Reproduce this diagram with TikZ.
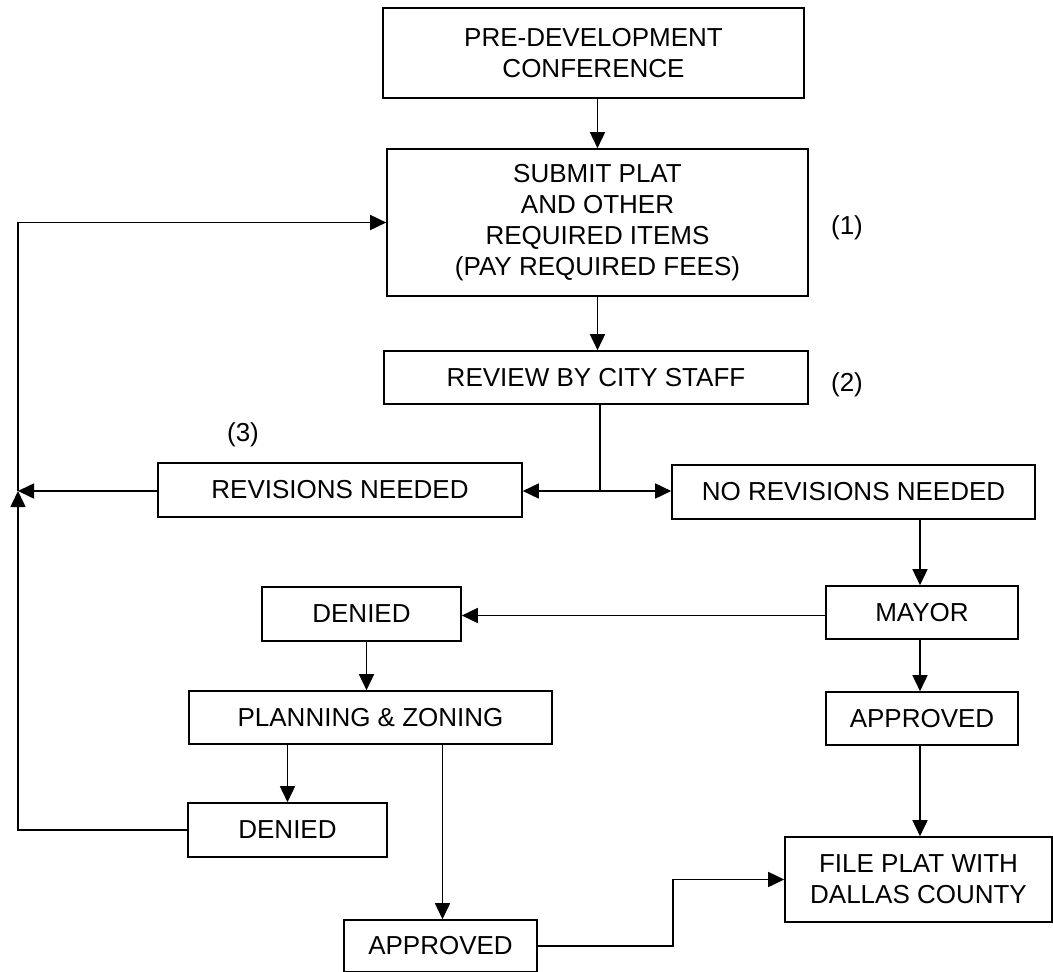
\documentclass[tikz,border=0pt]{standalone}
\usepackage{fontspec}
\setmainfont{Liberation Sans}
\usetikzlibrary{arrows.meta,calc}
\begin{document}
\begin{tikzpicture}[x=1pt,y=-1pt,
  every node/.style={font=\fontsize{26}{31}\selectfont},
  box/.style={draw,line width=1.6pt,inner sep=0pt,align=center},
  lbl/.style={inner sep=0pt},
  conn/.style={line width=1.6pt},
  arr/.style={conn,-{Triangle[length=16pt,width=15pt]}}]
\useasboundingbox (0,0) rectangle (1053,972);
\node[box,minimum width=421,minimum height=90] (pre) at (593.5,53) {PRE-DEVELOPMENT\\CONFERENCE};
\node[box,minimum width=421,minimum height=147] (submit) at (597.5,222.5) {SUBMIT PLAT\\AND OTHER\\REQUIRED ITEMS\\(PAY REQUIRED FEES)};
\node[box,minimum width=424,minimum height=53] (review) at (596,377.5) {REVIEW BY CITY STAFF};
\node[box,minimum width=364,minimum height=54] (revis) at (340,490) {REVISIONS NEEDED};
\node[box,minimum width=363,minimum height=54] (norev) at (853.5,492) {NO REVISIONS NEEDED};
\node[box,minimum width=192,minimum height=53] (mayor) at (922,612.5) {MAYOR};
\node[box,minimum width=199,minimum height=54] (deniedA) at (361.5,614) {DENIED};
\node[box,minimum width=363,minimum height=53] (plan) at (370.5,717.5) {PLANNING \& ZONING};
\node[box,minimum width=192,minimum height=53] (apprA) at (922,718.5) {APPROVED};
\node[box,minimum width=199,minimum height=54] (deniedB) at (287.5,830) {DENIED};
\node[box,minimum width=267,minimum height=85] (file) at (918.5,879.5) {FILE PLAT WITH\\DALLAS COUNTY};
\node[box,minimum width=193,minimum height=52] (apprB) at (440.5,946) {APPROVED};
\node[lbl] (l1) at (847,228) {(1)};
\node[lbl] (l2) at (847,385) {(2)};
\node[lbl] (l3) at (243,435) {(3)};
\coordinate (split) at (600,491);
\coordinate (J) at (18,491);
\coordinate (bendx) at (673,0);
\draw[arr] (submit.north |- pre.south) -- (submit.north);
\draw[arr] (submit.south) -- (submit.south |- review.north);
\draw[conn] (review.south -| split) -- (split);
\draw[arr] (split) -- (split -| revis.east);
\draw[arr] (split) -- (split -| norev.west);
\draw[arr] (revis.west |- J) -- (J);
\draw[arr] (deniedB.west) -| (J);
\draw[arr] (J) |- (submit.west);
\draw[arr] ([xshift=-2]mayor.north |- norev.south) -- ([xshift=-2]mayor.north);
\draw[arr] ([yshift=-3]mayor.west) -- ([yshift=-3]mayor.west -| deniedA.east);
\draw[arr] ([xshift=-2]mayor.south) -- ([xshift=-2]mayor.south |- apprA.north);
\draw[arr] ([xshift=-2]apprA.south) -- ([xshift=-2]apprA.south |- file.north);
\draw[arr] ([xshift=5]deniedA.south) -- ([xshift=5]deniedA.south |- plan.north);
\draw[arr] (deniedB.north |- plan.south) -- (deniedB.north);
\draw[arr] ([xshift=2]apprB.north |- plan.south) -- ([xshift=2]apprB.north);
\draw[arr] (apprB.east) -- (apprB.east -| bendx) |- (file.west);
\end{tikzpicture}
\end{document}
